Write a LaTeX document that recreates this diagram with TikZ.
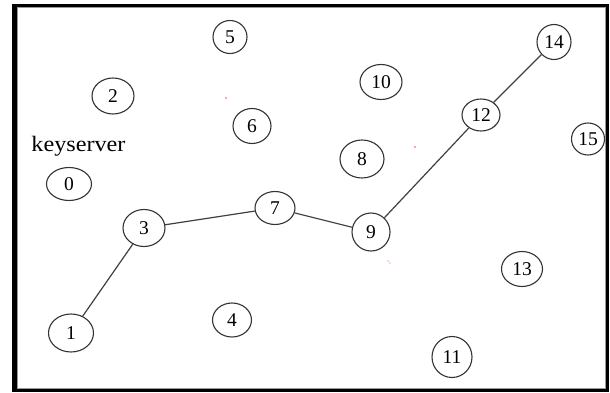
\documentclass[tikz,border=0pt]{standalone}
\usepackage{fontspec}
\setmainfont{Liberation Serif}
\newfontfamily\widefont[FakeStretch=1.1]{Liberation Serif}
\usetikzlibrary{shapes.geometric}
\begin{document}
\begin{tikzpicture}[x=1pt,y=-1pt,
  peer/.style={draw=black!80, line width=1.1pt, ellipse, inner sep=0pt,
    font=\fontsize{19.5}{19.5}\selectfont},
  link/.style={draw=black!75, line width=1.2pt},
  frameline/.style={draw=black},
  speck/.style={fill=red!70}]
\useasboundingbox (0,0) rectangle (610,393);
\fill[white] (0,0) rectangle (610,393);
% frame
\draw[draw=black!40, line width=0.8pt] (17.5,7.5) rectangle (605.5,388.5);
\draw[frameline, line width=3pt] (12,5.5) -- (609,5.5);
\draw[frameline, line width=3pt] (607.5,4) -- (607.5,392);
\draw[frameline, line width=3pt] (12,390.5) -- (609,390.5);
\draw[frameline, line width=4.5pt] (14.5,4) -- (14.5,392);
% label
\node[font=\widefont\fontsize{22}{22}\selectfont, inner sep=0pt] (ks) at (78.5,146) {keyserver};
% peers
\node[peer, minimum width=45pt, minimum height=33pt] (n0) at (69,184) {0};
\node[peer, minimum width=45pt, minimum height=38pt] (n1) at (71,333) {1};
\node[peer, minimum width=42pt, minimum height=36pt] (n2) at (113,96) {2};
\node[peer, minimum width=42pt, minimum height=37pt] (n3) at (144,228) {3};
\node[peer, minimum width=39pt, minimum height=34pt] (n4) at (232,320) {4};
\node[peer, minimum width=34pt, minimum height=33pt] (n5) at (230,37) {5};
\node[peer, minimum width=38pt, minimum height=35pt] (n6) at (252,126) {6};
\node[peer, minimum width=40pt, minimum height=33pt] (n7) at (275,208) {7};
\node[peer, minimum width=44pt, minimum height=38pt] (n8) at (362,159) {8};
\node[peer, minimum width=38pt, minimum height=38pt] (n9) at (371,232) {9};
\node[peer, minimum width=42pt, minimum height=35pt] (n10) at (381,82) {10};
\node[peer, minimum width=40pt, minimum height=41pt] (n11) at (452,357) {11};
\node[peer, minimum width=38pt, minimum height=32pt] (n12) at (481,115) {12};
\node[peer, minimum width=41pt, minimum height=35pt] (n13) at (522,269) {13};
\node[peer, minimum width=34pt, minimum height=35pt] (n14) at (554,42) {14};
\node[peer, minimum width=33pt, minimum height=32pt] (n15) at (588,139) {15};
% links
\draw[link] (n1) -- (n3);
\draw[link] (n3) -- (n7);
\draw[link] (n7) -- (n9);
\draw[link] (n9) -- (n12);
\draw[link] (n12) -- (n14);
% specks
\fill[speck] (226,98) circle (0.8);
\fill[speck] (415,147) circle (0.8);
\fill[speck] (388,261) circle (0.7);
\fill[speck] (390,263) circle (0.7);
\end{tikzpicture}
\end{document}
